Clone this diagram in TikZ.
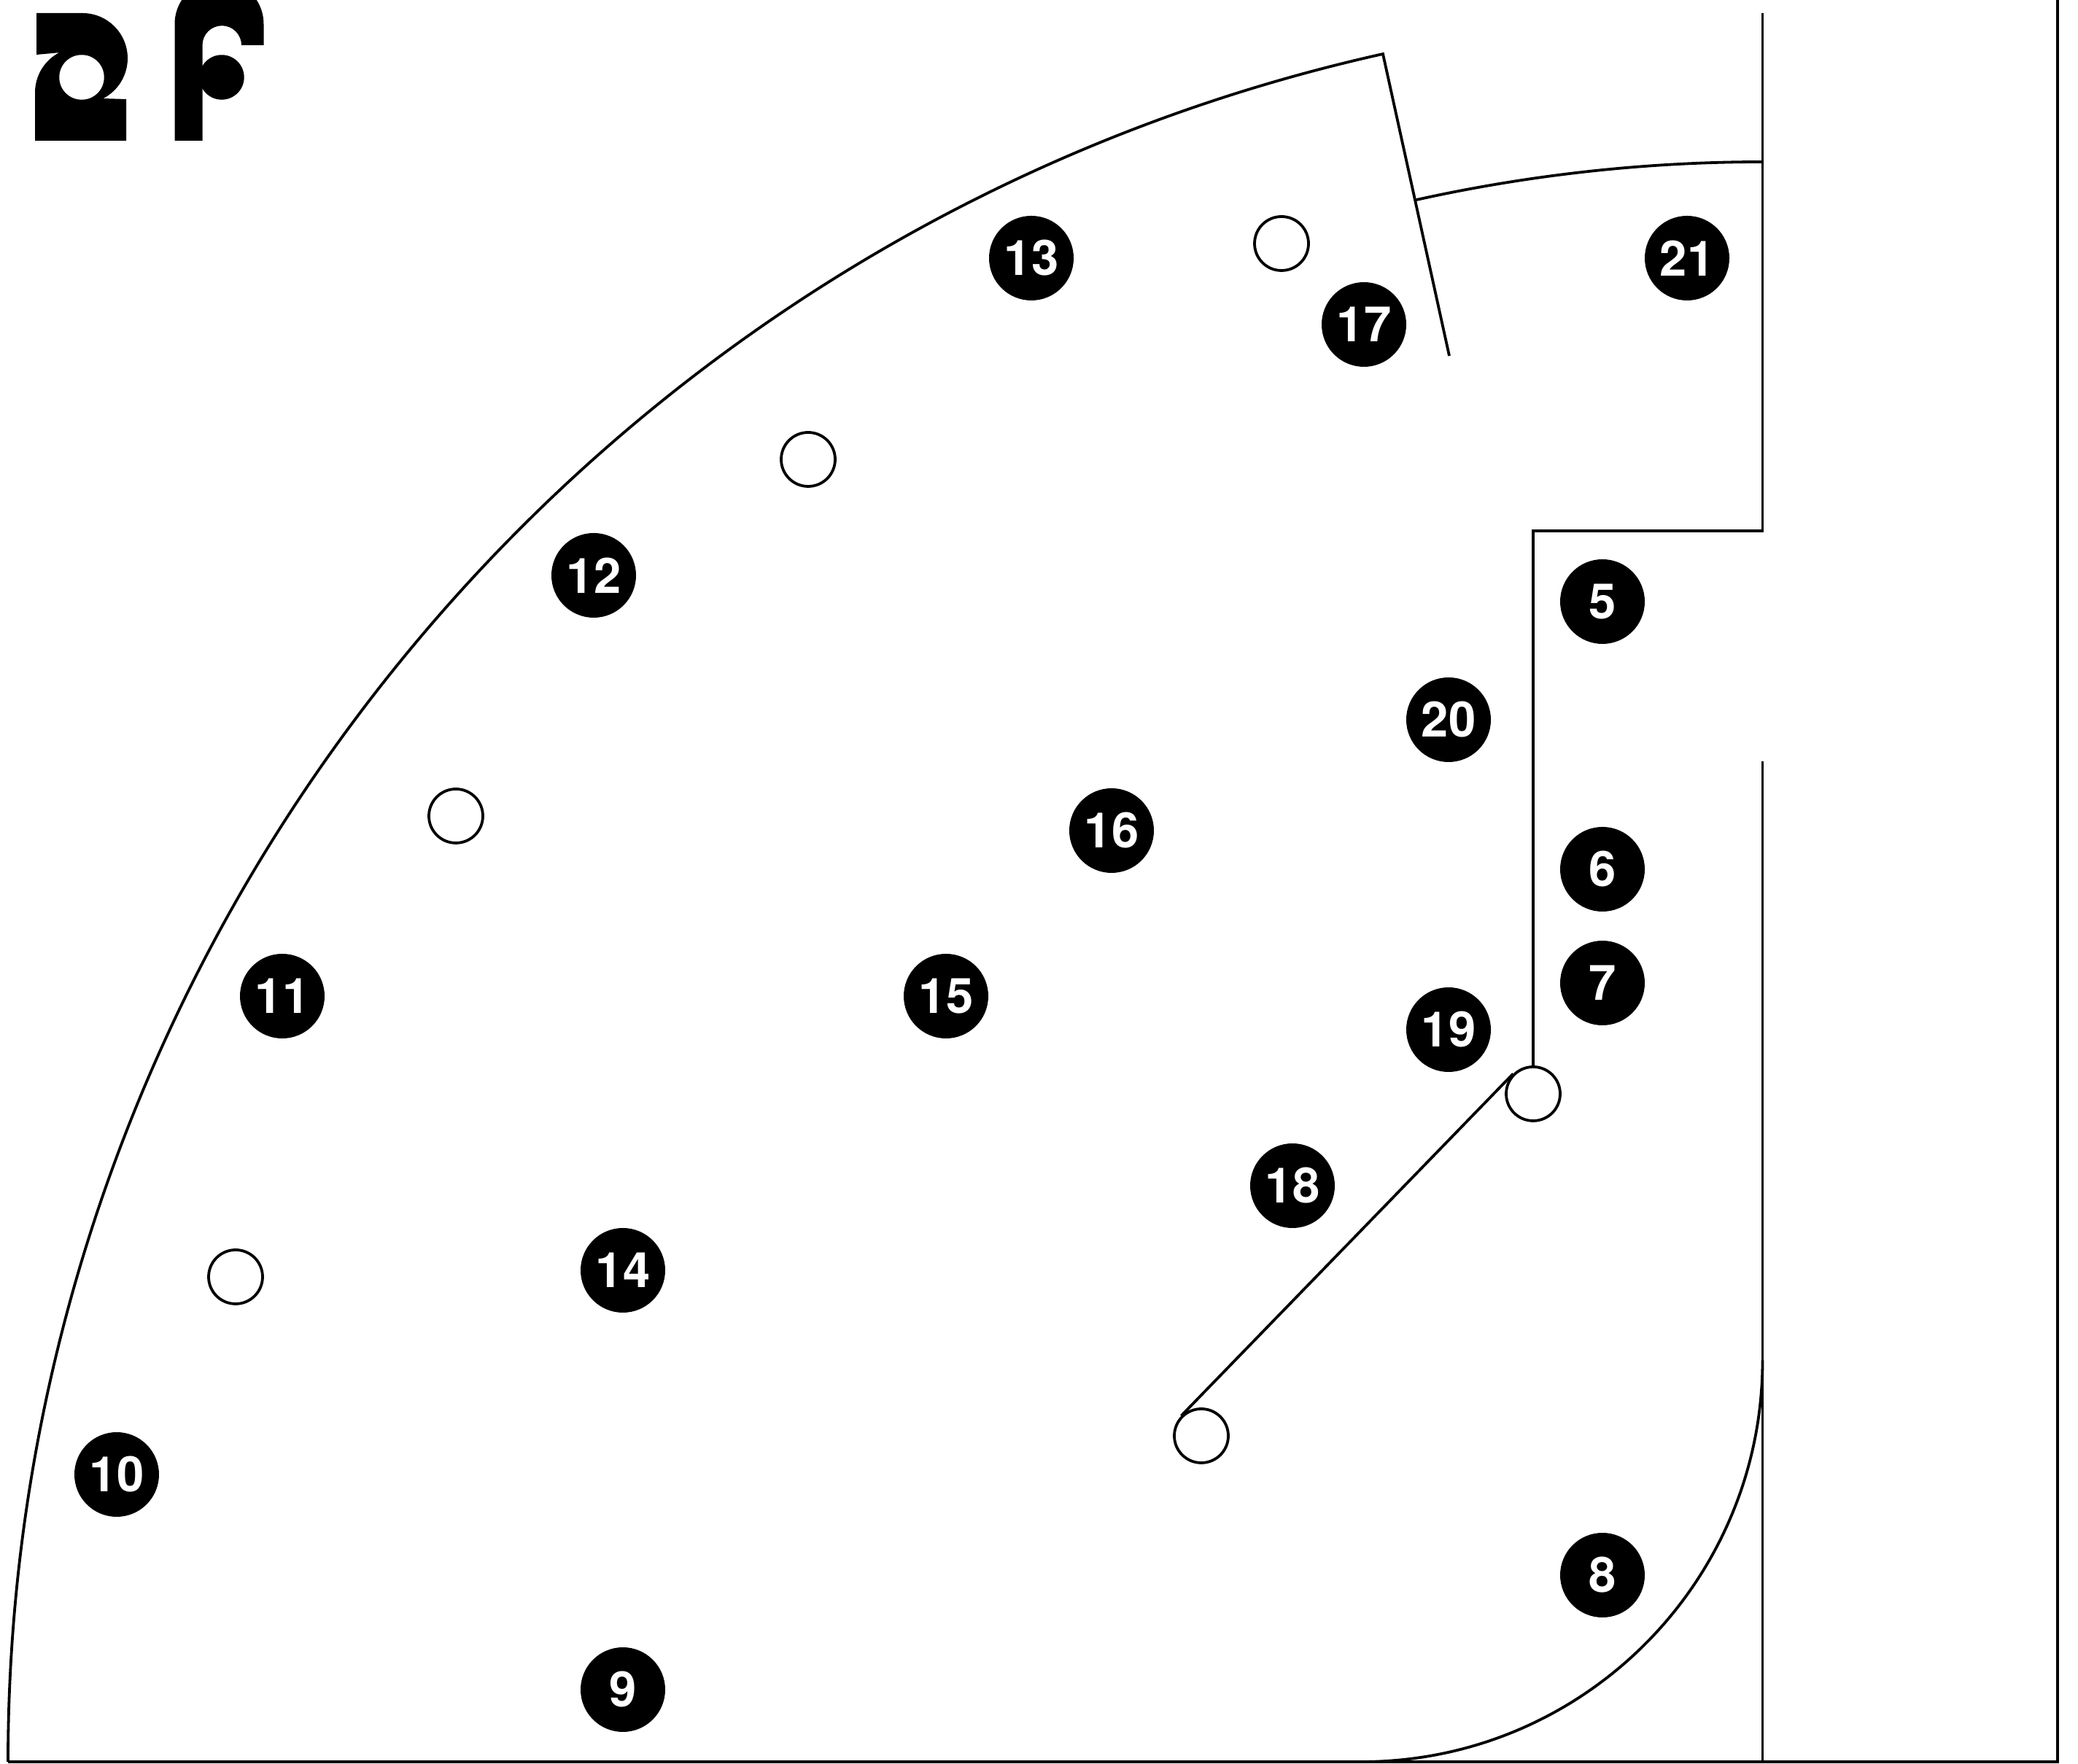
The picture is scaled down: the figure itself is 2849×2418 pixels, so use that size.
\documentclass[tikz,border=0pt]{standalone}
\usepackage{fontspec}
\setmainfont{TeX Gyre Heros}
\tikzset{
  wall/.style={draw=black,line width=3.8pt,line cap=butt,line join=miter},
  badge/.style={circle,fill=black,text=white,minimum size=116pt,inner sep=0pt,
    font=\fontsize{67}{67}\selectfont\bfseries},
  pivot/.style={circle,draw=black,fill=none,line width=3.8pt,minimum size=74pt,inner sep=0pt},
  logo/.style={fill=black,draw=none}
}
\begin{document}
\begin{tikzpicture}[x=1pt,y=1pt]
\useasboundingbox (0,0) rectangle (2849,2418);
% logo
\begin{scope}
\clip (0,0) rectangle (2849,2418);
\path[logo] (50,2400) -- (113,2400) arc[start angle=90,end angle=-62.6,radius=62]
  -- (173,2282) -- (173,2225) -- (48,2225) -- (48,2291)
  arc[start angle=180,end angle=117.8,radius=62] -- (50,2343) -- cycle;
\path[fill=white] (112,2312) circle[radius=30.7];
\path[logo] (239.5,2225) -- (239.5,2385) arc[start angle=180,end angle=0,radius=61]
  -- (361.5,2356) -- (331,2356) arc[start angle=0,end angle=180,radius=26.75]
  -- (277.5,2225) -- cycle;
\path[logo] (304,2312) circle[radius=30.7];
\end{scope}
% pivots
\node[pivot] (pa) at (1757,2084) {};
\node[pivot] (pb) at (1108,1788) {};
\node[pivot] (pc) at (625,1299) {};
\node[pivot] (pd) at (323,667) {};
\node[pivot] (pe) at (2102,918) {};
\node[pivot] (pf) at (1647,449) {};
% named ends
\coordinate (outerstart) at (11,2);
\coordinate (outertip) at (1896,2344);
\coordinate (bottomright) at (2821,2);
\coordinate (topright) at (2821,2418);
\coordinate (walltop) at (2416.5,2400);
\coordinate (stepa) at (2416.5,1690);
\coordinate (stepb) at (2102,1690);
\coordinate (lowertop) at (2416.5,1374);
\coordinate (lowerbottom) at (2416.5,2);
\coordinate (radialend) at (1987,1930);
\coordinate (innerstart) at (2416.5,2196);
\coordinate (curvestart) at (1866,2);
% walls
\draw[wall] (outerstart) .. controls (11,1127) and (800,2099.6) .. (outertip) -- (radialend);
\draw[wall] (innerstart) arc[start angle=90,end angle=102.5,radius=2194];
\draw[wall] (walltop) -- (stepa) -- (stepb) -- (pe.north);
\draw[wall] (lowertop) -- (lowerbottom);
\draw[wall] (curvestart) arc[start angle=270,end angle=360,radius=550.5];
\draw[wall] (topright) -- (bottomright) -- (outerstart);
\draw[wall] (pe.135) -- (pf.135);
% badges
\node[badge] (n5) at (2197,1593) {5};
\node[badge] (n6) at (2197,1226) {6};
\node[badge] (n7) at (2197,1070) {7};
\node[badge] (n8) at (2197,258) {8};
\node[badge] (n9) at (854,101) {9};
\node[badge] (n10) at (160,396) {10};
\node[badge] (n11) at (387,1052) {11};
\node[badge] (n12) at (814,1629) {12};
\node[badge] (n13) at (1414,2064) {13};
\node[badge] (n14) at (854,676) {14};
\node[badge] (n15) at (1297,1052) {15};
\node[badge] (n16) at (1524,1279) {16};
\node[badge] (n17) at (1870,1973) {17};
\node[badge] (n18) at (1772,792) {18};
\node[badge] (n19) at (1986,1006) {19};
\node[badge] (n20) at (1986,1431) {20};
\node[badge] (n21) at (2313,2064) {21};
\end{tikzpicture}
\end{document}
